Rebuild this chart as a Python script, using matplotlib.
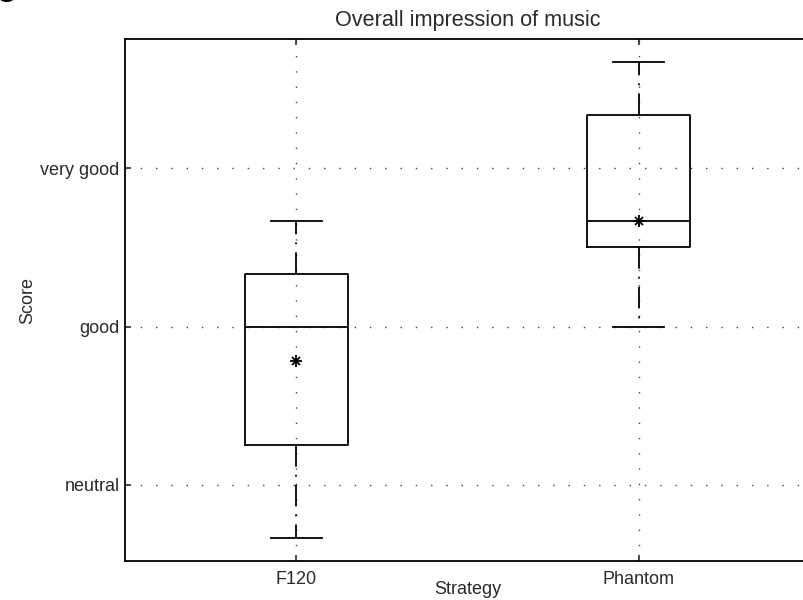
import matplotlib
matplotlib.use("Agg")
import matplotlib.pyplot as plt

# data (score scale: neutral=3, good=4, very good=5)
strategies = ["F120", "Phantom"]
whisker_low = [2.667, 4.0]
q1 = [3.25, 4.5]
medians = [4.0, 4.667]
q3 = [4.333, 5.333]
whisker_high = [4.667, 5.667]
means = [3.78, 4.667]

score_ticks = [3, 4, 5]
score_labels = ["neutral", "good", "very good"]

plt.rcParams["font.family"] = ["Liberation Sans", "DejaVu Sans"]
plt.rcParams["font.size"] = 13
plt.rcParams["text.color"] = "#2a2a2a"
plt.rcParams["axes.labelcolor"] = "#2a2a2a"
plt.rcParams["xtick.color"] = "#2a2a2a"
plt.rcParams["ytick.color"] = "#2a2a2a"

fig = plt.figure(figsize=(8.04, 6.0), dpi=100)
# axes runs past the right edge, as in the cropped reference
ax = fig.add_axes([125 / 804, 39 / 600, 685 / 804, 522 / 600])

stats = []
for i in range(len(strategies)):
    stats.append({"whislo": whisker_low[i], "q1": q1[i], "med": medians[i],
                  "q3": q3[i], "whishi": whisker_high[i], "fliers": []})

positions = list(range(1, len(strategies) + 1))
lw = 1.3
ax.bxp(stats, positions=positions, widths=0.3, showfliers=False,
       boxprops=dict(color="black", lw=lw),
       medianprops=dict(color="black", lw=lw),
       whiskerprops=dict(color="black", lw=lw, linestyle=(0, (12, 4.5, 1, 4.5))),
       capprops=dict(color="black", lw=lw))

# mean as an asterisk (plus and cross on top of each other)
ax.plot(positions, means, linestyle="none", marker="+", color="black", ms=8, mew=1.3)
ax.plot(positions, means, linestyle="none", marker="x", color="black", ms=6, mew=1.3)

ax.set_xlim(0.5, 2.5)
ax.set_ylim(2.52, 5.815)
ax.set_xticks(positions)
ax.set_xticklabels(strategies)
ax.set_yticks(score_ticks)
ax.set_yticklabels(score_labels)

ax.tick_params(direction="in", length=4, width=1.2, top=True, right=True)
ax.tick_params(axis="x", pad=7)
ax.tick_params(axis="y", pad=4)
for s in ax.spines.values():
    s.set_linewidth(1.3)

ax.grid(True, color="#444444", lw=1.0, linestyle=(0, (1, 10)))
ax.set_axisbelow(True)

ax.set_title("Overall impression of music", pad=9.5)
ax.set_xlabel("Strategy")
ax.xaxis.set_label_coords(0.5, -0.038)
ax.xaxis.label.set_va("top")
ax.set_ylabel("Score")
ax.yaxis.set_label_coords(-0.13, 0.5)

# panel letter, mostly cropped off at the top edge
fig.text(-0.004, 1.0 + 5 / 600, "g", fontsize=24, fontweight="bold", color="black", va="baseline")

fig.savefig("out.png", dpi=100)
